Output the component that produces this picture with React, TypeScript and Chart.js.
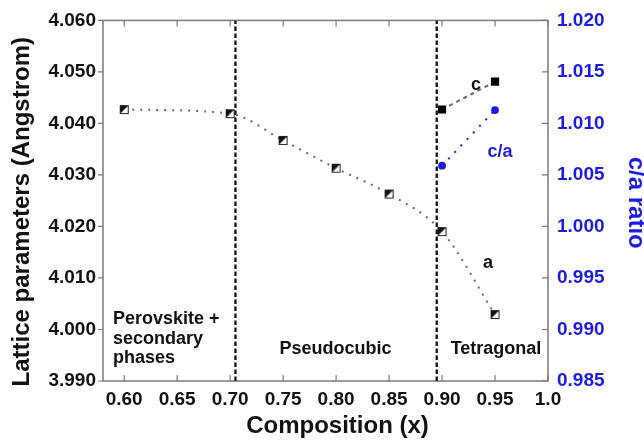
import React, { useEffect, useRef } from 'react';
import { Chart, registerables } from 'chart.js';

Chart.register(...registerables);

// ---- data ----
const compositionA = [0.6, 0.7, 0.75, 0.8, 0.85, 0.9, 0.95];
const latticeA = [4.0427, 4.0419, 4.0367, 4.0313, 4.0263, 4.019, 4.0029];
const compositionC = [0.9, 0.95];
const latticeC = [4.0427, 4.0481];
const ratioCA = [1.0059, 1.0113];
const phaseBoundaries = [0.705, 0.895];

const xTickLabels = ['0.60', '0.65', '0.70', '0.75', '0.80', '0.85', '0.90', '0.95', '1.0'];
const leftTickLabels = ['3.990', '4.000', '4.010', '4.020', '4.030', '4.040', '4.050', '4.060'];
const rightTickLabels = ['0.985', '0.990', '0.995', '1.000', '1.005', '1.010', '1.015', '1.020'];

const BLUE = '#1b1be6';
const FONT = "'Liberation Sans', Arial, sans-serif";

function makeHalfSquare(): HTMLCanvasElement {
  const c = document.createElement('canvas');
  c.width = 11;
  c.height = 11;
  const g = c.getContext('2d')!;
  g.fillStyle = '#ffffff';
  g.fillRect(1, 1, 9, 9);
  g.fillStyle = '#111111';
  g.beginPath();
  g.moveTo(1, 1);
  g.lineTo(10, 1);
  g.lineTo(1, 10);
  g.closePath();
  g.fill();
  g.strokeStyle = '#222222';
  g.lineWidth = 1;
  g.strokeRect(1.5, 1.5, 8, 8);
  return c;
}

const framePlugin = {
  id: 'framePlugin',
  beforeDatasetsDraw(chart: any) {
    const { ctx, chartArea: a, scales } = chart;
    ctx.save();
    ctx.strokeStyle = '#7a7a7a';
    ctx.lineWidth = 1.5;
    ctx.strokeRect(a.left, a.top, a.right - a.left, a.bottom - a.top);
    ctx.lineWidth = 1.2;
    ctx.beginPath();
    xTickLabels.forEach((t) => {
      const px = scales.x.getPixelForValue(parseFloat(t));
      ctx.moveTo(px, a.top);
      ctx.lineTo(px, a.top + 6);
      ctx.moveTo(px, a.bottom);
      ctx.lineTo(px, a.bottom - 6);
    });
    leftTickLabels.forEach((t) => {
      const py = scales.y.getPixelForValue(parseFloat(t));
      ctx.moveTo(a.left - 5, py);
      ctx.lineTo(a.left, py);
    });
    rightTickLabels.forEach((t) => {
      const py = scales.y2.getPixelForValue(parseFloat(t));
      ctx.moveTo(a.right - 6, py);
      ctx.lineTo(a.right, py);
    });
    ctx.stroke();
    ctx.restore();
  },
  afterDraw(chart: any) {
    const { ctx, chartArea: a, scales } = chart;
    const X = (v: number) => scales.x.getPixelForValue(v);
    const Y = (v: number) => scales.y.getPixelForValue(v);
    ctx.save();
    // axis titles
    ctx.fillStyle = '#111';
    ctx.font = `bold 24px ${FONT}`;
    ctx.textAlign = 'center';
    ctx.textBaseline = 'middle';
    ctx.fillText('Composition (x)', (a.left + a.right) / 2 + 12, 426);
    ctx.save();
    ctx.translate(22, (a.top + a.bottom) / 2 + 11);
    ctx.rotate(-Math.PI / 2);
    ctx.fillText('Lattice parameters (Angstrom)', 0, 0);
    ctx.restore();
    ctx.save();
    ctx.fillStyle = BLUE;
    ctx.translate(636, (a.top + a.bottom) / 2 + 2);
    ctx.rotate(Math.PI / 2);
    ctx.fillText('c/a ratio', 0, 0);
    ctx.restore();

    // annotations
    ctx.font = `bold 18px ${FONT}`;
    ctx.textBaseline = 'alphabetic';
    ctx.textAlign = 'left';
    ctx.fillStyle = '#111';
    const left = X(0.5894);
    ctx.fillText('Perovskite +', left, Y(4.0010));
    ctx.fillText('secondary', left, Y(3.9972));
    ctx.fillText('phases', left, Y(3.9934));
    ctx.textAlign = 'center';
    ctx.fillText('Pseudocubic', X(0.7994), Y(3.9953));
    ctx.fillText('Tetragonal', X(0.9509), Y(3.9953));
    ctx.textBaseline = 'middle';
    ctx.fillText('c', X(0.932), Y(4.0475));
    ctx.fillText('a', X(0.9434), Y(4.0129));
    ctx.fillStyle = BLUE;
    ctx.fillText('c/a', X(0.9547), Y(4.0344));
    ctx.restore();
  },
};

export default function App() {
  const ref = useRef<HTMLCanvasElement | null>(null);
  useEffect(() => {
    const canvas = ref.current;
    if (!canvas) return;
    const half = makeHalfSquare();
    const tickFont = { family: FONT, size: 19, weight: 'bold' as const };
    const chart = new Chart(canvas, {
      type: 'line',
      data: {
        datasets: [
          {
            label: 'a',
            data: compositionA.map((x, i) => ({ x, y: latticeA[i] })),
            yAxisID: 'y',
            borderColor: '#6a6a6a',
            borderWidth: 2,
            borderDash: [2, 6],
            cubicInterpolationMode: 'monotone',
            pointStyle: half as any,
            pointRadius: 5,
            clip: false as any,
          },
          {
            label: 'c',
            data: compositionC.map((x, i) => ({ x, y: latticeC[i] })),
            yAxisID: 'y',
            borderColor: '#666666',
            borderWidth: 2,
            borderDash: [4, 4],
            pointStyle: 'rect',
            pointRadius: 5.8,
            pointBackgroundColor: '#000',
            pointBorderColor: '#000',
            pointBorderWidth: 0,
          },
          {
            label: 'c/a',
            data: compositionC.map((x, i) => ({ x, y: ratioCA[i] })),
            yAxisID: 'y2',
            borderColor: BLUE,
            borderWidth: 2,
            borderDash: [2, 7],
            pointStyle: 'circle',
            pointRadius: 3.9,
            pointBackgroundColor: BLUE,
            pointBorderColor: BLUE,
            pointBorderWidth: 0,
          },
          ...phaseBoundaries.map((b) => ({
            label: 'boundary',
            data: [
              { x: b, y: 3.99 },
              { x: b, y: 4.06 },
            ],
            yAxisID: 'y',
            borderColor: '#111',
            borderWidth: 2.3,
            borderDash: [4.5, 2.5],
            pointRadius: 0,
          })),
        ],
      },
      options: {
        responsive: false,
        animation: false,
        layout: { padding: { top: 17, left: 0, right: 0, bottom: 0 } },
        plugins: { legend: { display: false }, tooltip: { enabled: false } },
        scales: {
          x: {
            type: 'linear',
            position: 'bottom',
            min: 0.58,
            max: 1.0,
            grid: { display: false, drawTicks: false },
            border: { display: false },
            afterBuildTicks: (s: any) => {
              s.ticks = xTickLabels.map((t) => ({ value: parseFloat(t) }));
            },
            afterFit: (s: any) => {
              s.height = 61;
            },
            ticks: {
              padding: 7,
              color: '#111',
              font: tickFont,
              maxRotation: 0,
              autoSkip: false,
              callback: (v: any, i: number) => xTickLabels[i],
            },
          },
          y: {
            type: 'linear',
            position: 'left',
            min: 3.99,
            max: 4.06,
            grid: { display: false, drawTicks: false },
            border: { display: false },
            afterBuildTicks: (s: any) => {
              s.ticks = leftTickLabels.map((t) => ({ value: parseFloat(t) }));
            },
            afterFit: (s: any) => {
              s.width = 103;
            },
            ticks: {
              padding: 7,
              color: '#111',
              font: tickFont,
              autoSkip: false,
              callback: (v: any, i: number) => leftTickLabels[i],
            },
          },
          y2: {
            type: 'linear',
            position: 'right',
            min: 0.985,
            max: 1.02,
            grid: { display: false, drawTicks: false },
            border: { display: false },
            afterBuildTicks: (s: any) => {
              s.ticks = rightTickLabels.map((t) => ({ value: parseFloat(t) }));
            },
            afterFit: (s: any) => {
              s.width = 96;
            },
            ticks: {
              padding: 9,
              color: BLUE,
              font: tickFont,
              autoSkip: false,
              callback: (v: any, i: number) => rightTickLabels[i],
            },
          },
        },
      },
      plugins: [framePlugin],
    } as any);
    return () => chart.destroy();
  }, []);
  return (
    <div style={{ position: 'absolute', left: 0, top: 0, width: 644, height: 442, background: '#fff' }}>
      <canvas ref={ref} width={644} height={442} />
    </div>
  );
}
